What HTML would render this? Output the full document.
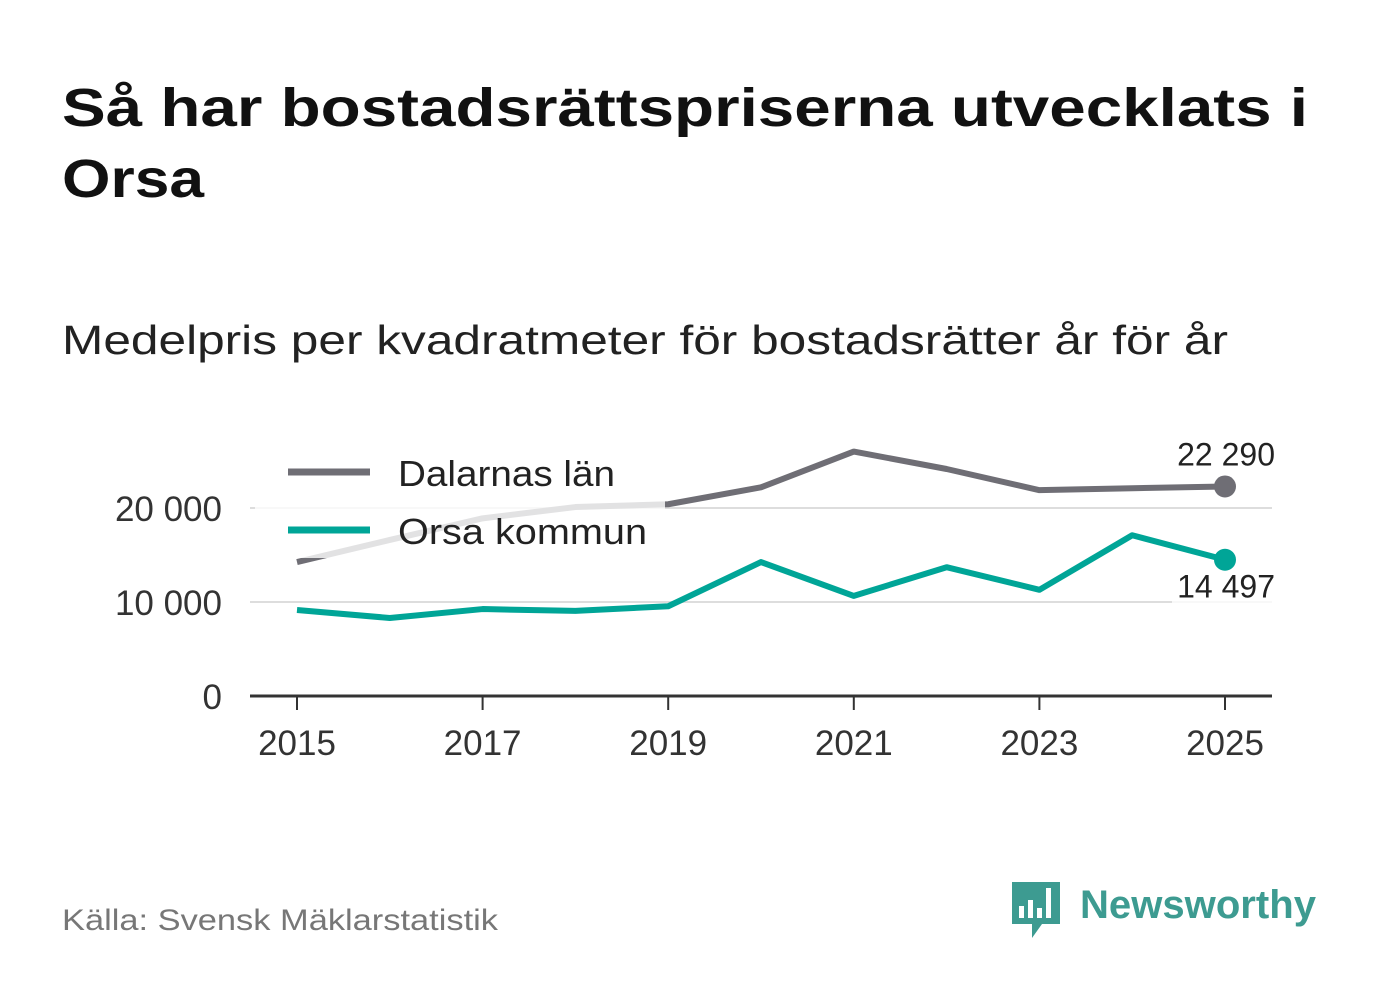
<!DOCTYPE html>
<html><head><meta charset="utf-8"><style>
body{margin:0;background:#fff;width:1382px;height:999px;overflow:hidden;font-family:"Liberation Sans",sans-serif;}
</style></head><body>
<svg width="1382" height="999">
<text x="62" y="126" font-size="54" font-weight="bold" fill="#111" textLength="1246" lengthAdjust="spacingAndGlyphs">Så har bostadsrättspriserna utvecklats i</text>
<text x="62" y="197" font-size="54" font-weight="bold" fill="#111" textLength="142" lengthAdjust="spacingAndGlyphs">Orsa</text>
<text x="62" y="354" font-size="41" fill="#222" textLength="1166" lengthAdjust="spacingAndGlyphs">Medelpris per kvadratmeter för bostadsrätter år för år</text>
<g id="plot"></g>
<text x="62" y="930" font-size="30" fill="#777" textLength="436" lengthAdjust="spacingAndGlyphs">Källa: Svensk Mäklarstatistik</text>
<g>
<path d="M1012 882h48v42h-18l-10 14v-14h-20z" fill="#3d9b91"/>
<rect x="1019" y="906" width="5" height="12" fill="#fff"/><rect x="1028" y="900" width="5" height="18" fill="#fff"/><rect x="1037" y="908" width="5" height="10" fill="#fff"/><rect x="1046" y="888" width="5" height="30" fill="#fff"/>
<text x="1080" y="918" font-size="40" font-weight="bold" fill="#3d9b91" textLength="236" lengthAdjust="spacingAndGlyphs">Newsworthy</text>
</g>
</svg>
<script>
const years=[2015,2016,2017,2018,2019,2020,2021,2022,2023,2024,2025];
const dalarna=[14250,16600,18900,20100,20400,22200,26000,24150,21900,22100,22290];
const orsa=[9150,8300,9250,9050,9550,14250,10650,13700,11300,17100,14497];
const yTicks=[0,10000,20000];
const xTicks=[2015,2017,2019,2021,2023,2025];
const NS='http://www.w3.org/2000/svg';
const g=document.getElementById('plot');
const x=v=>297+(v-2015)*92.8;
const y=v=>696-v*0.0094;
const fmt=v=>String(v).replace(/\B(?=(\d{3})+(?!\d))/g,' ');
function mk(t,a,p){const e=document.createElementNS(NS,t);for(const k in a)e.setAttribute(k,a[k]);(p||g).appendChild(e);return e;}
yTicks.forEach(t=>{
 if(t>0){const l=mk('line',{x1:250,x2:1272,y1:y(t),y2:y(t),stroke:'#ddd','stroke-width':2});
 
 }
 const tx=mk('text',{x:222,y:y(t)+13,'font-size':35,fill:'#333','text-anchor':'end'});tx.textContent=fmt(t);
 
 
});
const ax=mk('line',{x1:250,x2:1272,y1:696,y2:696,stroke:'#333','stroke-width':3});


xTicks.forEach(t=>{
 mk('line',{x1:x(t),x2:x(t),y1:696,y2:710,stroke:'#333','stroke-width':2});
 const tx=mk('text',{x:x(t),y:755,'font-size':35,fill:'#333','text-anchor':'middle'});tx.textContent=t;
 
 
});
function series(data,color,name){
 const p=mk('polyline',{points:data.map((v,i)=>x(years[i])+','+y(v)).join(' '),fill:'none',stroke:color,'stroke-width':6,'stroke-linejoin':'round'});
 
 
 const n=data.length-1;
 const c=mk('circle',{cx:x(years[n]),cy:y(data[n]),r:11,fill:color});
 
 
}
series(dalarna,'#6f6e75','dalarna');
series(orsa,'#00a597','orsa');
let t1=mk('text',{x:1275,y:y(dalarna[10])-21,'font-size':32,fill:'#222','text-anchor':'end'});t1.textContent=fmt(dalarna[10]);


mk('rect',{x:1172,y:y(orsa[10])+14,width:102,height:30,fill:'rgba(255,255,255,0.8)'});
let t2=mk('text',{x:1275,y:y(orsa[10])+38,'font-size':32,fill:'#222','text-anchor':'end'});t2.textContent=fmt(orsa[10]);


const lg=mk('g',{});


mk('rect',{x:255,y:440,width:410,height:118,fill:'rgba(255,255,255,0.8)'},lg);
mk('line',{x1:288,x2:370,y1:472,y2:472,stroke:'#6f6e75','stroke-width':7},lg);
mk('line',{x1:288,x2:370,y1:530,y2:530,stroke:'#00a597','stroke-width':7},lg);
let l1=mk('text',{x:398,y:486,'font-size':36,fill:'#222',textLength:217,lengthAdjust:'spacingAndGlyphs'},lg);l1.textContent='Dalarnas län';


let l2=mk('text',{x:398,y:544,'font-size':36,fill:'#222',textLength:249,lengthAdjust:'spacingAndGlyphs'},lg);l2.textContent='Orsa kommun';


</script>
</body></html>
